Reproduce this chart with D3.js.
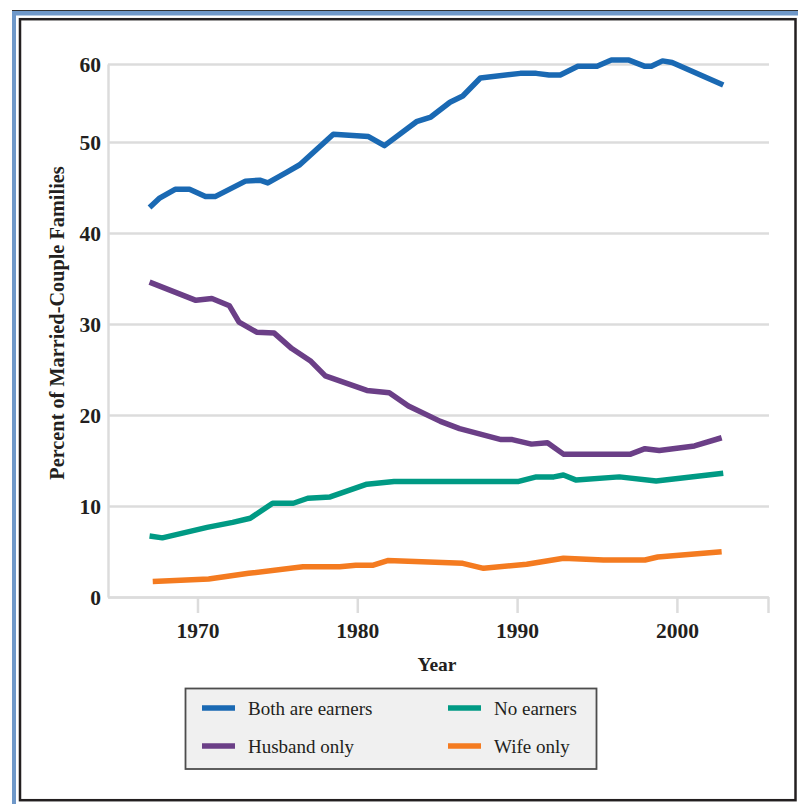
<!DOCTYPE html>
<html>
<head>
<meta charset="utf-8">
<script src="https://cdn.jsdelivr.net/npm/d3@7"></script>
<style>
  html, body { margin: 0; padding: 0; background: #fff; }
  svg { display: block; }
</style>
</head>
<body>
<svg id="chart" width="798" height="804"></svg>
<script>
// ---- data ----
const seriesNames = ["Both are earners", "Husband only", "No earners", "Wife only"];
const seriesColors = ["#1a69b3", "#6b3f87", "#009a84", "#f47b20"];

const bothYears = [1967, 1967.6, 1968.6, 1969.5, 1970.5, 1971.1, 1973.0, 1973.9, 1974.4, 1975.6, 1976.4, 1978.5, 1980.7, 1981.7, 1983.7, 1984.6, 1985.8, 1986.6, 1987.7, 1990.2, 1991.2, 1992.0, 1992.7, 1993.8, 1995.0, 1995.9, 1997.0, 1998.0, 1998.4, 1999.1, 1999.7, 2002.9];
const bothPct   = [42.8, 43.8, 44.8, 44.8, 44.0, 44.0, 45.7, 45.8, 45.5, 46.7, 47.5, 51.0, 50.7, 49.6, 52.6, 53.2, 55.1, 55.9, 58.2, 58.8, 58.8, 58.6, 58.6, 59.7, 59.7, 60.5, 60.5, 59.7, 59.7, 60.4, 60.2, 57.3];

const husbandYears = [1967.0, 1969.9, 1970.9, 1972.0, 1972.6, 1973.7, 1974.8, 1975.9, 1977.1, 1978.0, 1980.6, 1982.0, 1983.2, 1985.2, 1986.4, 1989.0, 1989.7, 1990.9, 1991.9, 1992.9, 1997.1, 1998.0, 1998.9, 2001.1, 2002.8];
const husbandPct   = [34.6, 32.6, 32.8, 32.0, 30.2, 29.1, 29.0, 27.3, 25.9, 24.3, 22.7, 22.45, 21.0, 19.3, 18.5, 17.3, 17.3, 16.8, 16.95, 15.7, 15.7, 16.3, 16.1, 16.6, 17.5];

const noneYears = [1967.0, 1967.8, 1970.6, 1972.2, 1973.3, 1974.7, 1976.0, 1976.9, 1978.3, 1980.6, 1982.3, 1986.4, 1990.1, 1991.2, 1992.3, 1992.9, 1993.7, 1996.4, 1998.7, 2002.9];
const nonePct   = [6.7, 6.5, 7.65, 8.2, 8.65, 10.3, 10.3, 10.85, 11.0, 12.4, 12.7, 12.7, 12.7, 13.2, 13.2, 13.4, 12.85, 13.2, 12.75, 13.6];

const wifeYears = [1967.2, 1970.7, 1973.2, 1976.6, 1978.9, 1979.9, 1981.0, 1981.9, 1986.6, 1987.9, 1990.6, 1992.9, 1995.4, 1998.0, 1998.8, 2002.8];
const wifePct   = [1.7, 1.98, 2.6, 3.33, 3.33, 3.5, 3.5, 4.0, 3.7, 3.15, 3.6, 4.25, 4.07, 4.07, 4.4, 4.98];

const xTickValues = [1970, 1980, 1990, 2000];
const yTickValues = [0, 10, 20, 30, 40, 50, 60];
const xTitle = "Year";
const yTitle = "Percent of Married-Couple Families";

// ---- build ----
const series = [
  { name: seriesNames[0], color: seriesColors[0], pts: bothYears.map((d, i) => [d, bothPct[i]]) },
  { name: seriesNames[1], color: seriesColors[1], pts: husbandYears.map((d, i) => [d, husbandPct[i]]) },
  { name: seriesNames[2], color: seriesColors[2], pts: noneYears.map((d, i) => [d, nonePct[i]]) },
  { name: seriesNames[3], color: seriesColors[3], pts: wifeYears.map((d, i) => [d, wifePct[i]]) }
];

const svg = d3.select("#chart");
const serif = "'Liberation Serif', 'DejaVu Serif', serif";
const ink = "#231f20";

// frames
svg.append("rect").attr("x", 12).attr("y", 10).attr("width", 786).attr("height", 5.5).attr("fill", "#6f98c9");
svg.append("rect").attr("x", 12).attr("y", 10).attr("width", 4).attr("height", 794).attr("fill", "#6f98c9");
svg.append("line").attr("x1", 12).attr("x2", 798).attr("y1", 10.5).attr("y2", 10.5).attr("stroke", "#333").attr("stroke-width", 1);
svg.append("rect").attr("x", 20).attr("y", 19.2).attr("width", 775.5).attr("height", 781)
  .attr("fill", "none").attr("stroke", ink).attr("stroke-width", 2.5);

const x = d3.scaleLinear().domain([1964.4, 2005.7]).range([108, 768]);
const y = d3.scaleLinear().domain([0, 50, 60]).range([597, 142, 64]);

const grid = "#dcdcdc";

// y axis + gridlines
const yAxis = svg.append("g").attr("transform", "translate(108,0)")
  .call(d3.axisLeft(y).tickValues(yTickValues).tickSizeInner(-661).tickSizeOuter(0).tickPadding(7));
yAxis.select(".domain").attr("stroke", grid).attr("stroke-width", 2.5);
yAxis.selectAll(".tick line").attr("stroke", grid).attr("stroke-width", 2.5);
yAxis.selectAll(".tick text").attr("fill", ink).attr("font-family", serif)
  .attr("font-weight", "bold").attr("font-size", 21.5).attr("dy", "0.34em");

// x axis
const xAxis = svg.append("g").attr("transform", "translate(0,597)")
  .call(d3.axisBottom(x).tickValues(xTickValues.concat([x.domain()[1]]))
    .tickFormat(d => xTickValues.includes(d) ? d : "")
    .tickSizeInner(16).tickSizeOuter(0));
xAxis.select(".domain").attr("stroke", grid).attr("stroke-width", 2.5);
xAxis.selectAll(".tick line").attr("stroke", grid).attr("stroke-width", 2.5);
xAxis.selectAll(".tick text").attr("fill", ink).attr("font-family", serif)
  .attr("font-weight", "bold").attr("font-size", 21.5).attr("y", 41).attr("dy", 0);

// titles
svg.append("text").attr("x", 437).attr("y", 671).attr("text-anchor", "middle")
  .attr("font-family", serif).attr("font-weight", "bold").attr("font-size", 19.5).attr("fill", ink).text(xTitle);
svg.append("text").attr("transform", "translate(64,323) rotate(-90)").attr("text-anchor", "middle")
  .attr("font-family", serif).attr("font-weight", "bold").attr("font-size", 20.3).attr("fill", ink).text(yTitle);

// lines
const line = d3.line().x(d => x(d[0])).y(d => y(d[1]));
svg.append("g").selectAll("path").data(series).join("path")
  .attr("d", d => line(d.pts))
  .attr("fill", "none").attr("stroke", d => d.color).attr("stroke-width", 5.5)
  .attr("stroke-linejoin", "round").attr("stroke-linecap", "butt");

// legend
const lg = svg.append("g");
lg.append("rect").attr("x", 185.5).attr("y", 688.5).attr("width", 411).attr("height", 80.5)
  .attr("fill", "#f0f0f0").attr("stroke", "#4d4d4d").attr("stroke-width", 1.8);
const legPos = [[202, 708], [202, 746], [448, 708], [448, 746]];
series.forEach((s, i) => {
  const [lx, ly] = legPos[i];
  lg.append("line").attr("x1", lx).attr("x2", lx + 33).attr("y1", ly).attr("y2", ly)
    .attr("stroke", s.color).attr("stroke-width", 5.5);
  lg.append("text").attr("x", lx + 46).attr("y", ly + 7).attr("font-family", serif)
    .attr("font-size", 19).attr("fill", ink).text(s.name);
});
</script>
</body>
</html>
